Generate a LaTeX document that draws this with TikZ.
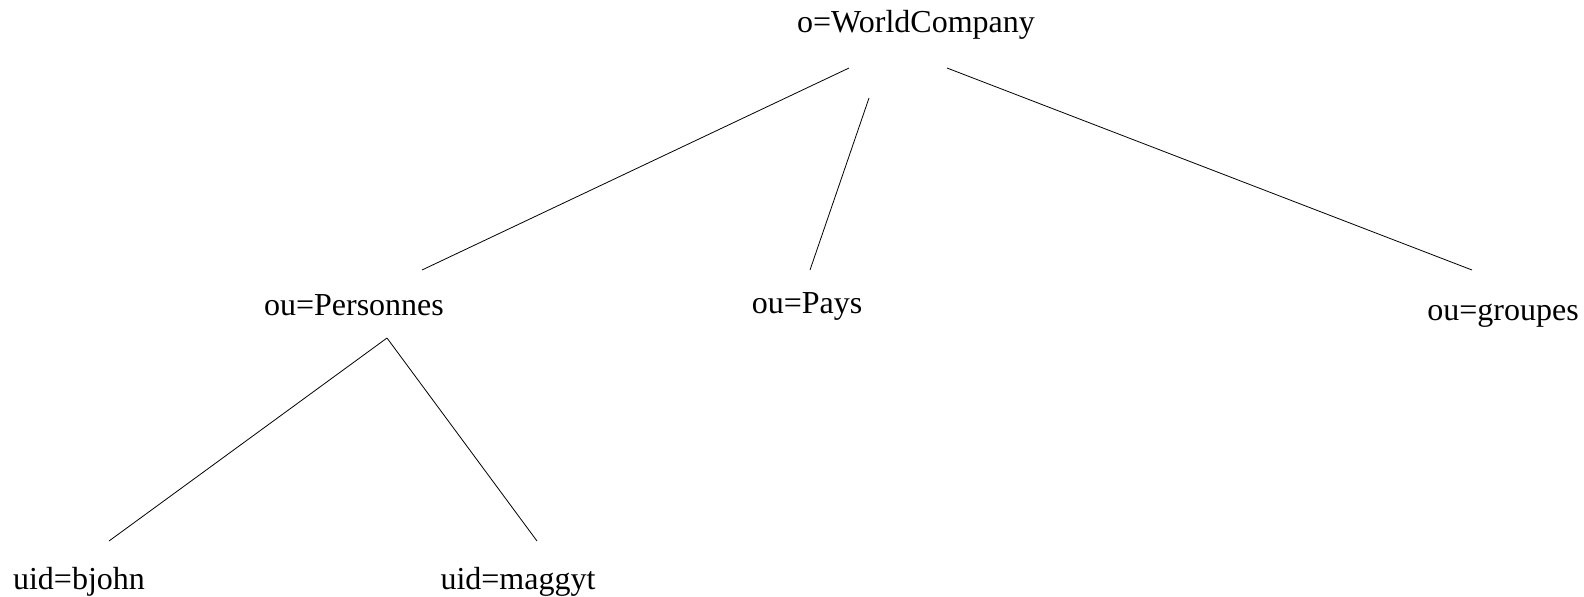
\documentclass[tikz,border=0pt]{standalone}
\usepackage{fontspec}
\setmainfont{Liberation Serif}
\usetikzlibrary{positioning}
\tikzset{
  entry/.style={inner sep=0pt, font=\fontsize{16}{19}\selectfont, text=black},
  branch/.style={draw=black, line width=0.4pt}
}
\begin{document}
\begin{tikzpicture}[x=0.5pt,y=-0.5pt]
\useasboundingbox (0,0) rectangle (1584,596);
% directory entries
\node[entry] (root) at (916,25) {o=WorldCompany};
\node[entry] (pers) at (354,305) {ou=Personnes};
\node[entry] (pays) at (807,306) {ou=Pays};
\node[entry] (grp) at (1503,316) {ou=groupes};
\node[entry] (bjohn) at (79,582) {uid=bjohn};
\node[entry] (maggy) at (518,582) {uid=maggyt};
% line ends
\coordinate (r1) at (849,68);
\coordinate (r2) at (869,98);
\coordinate (r3) at (947,68);
\coordinate (p1) at (422,270);
\coordinate (p2) at (810,270);
\coordinate (p3) at (1472,270);
\coordinate (s0) at (387,338);
\coordinate (s1) at (109,541);
\coordinate (s2) at (537,541);
\draw[branch] (r1) -- (p1);
\draw[branch] (r2) -- (p2);
\draw[branch] (r3) -- (p3);
\draw[branch] (s0) -- (s1);
\draw[branch] (s0) -- (s2);
\end{tikzpicture}
\end{document}
